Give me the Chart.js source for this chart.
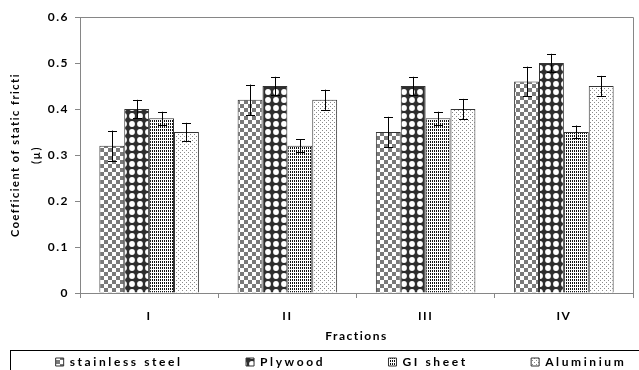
<!DOCTYPE html>
<html><head><meta charset="utf-8">
<script src="https://cdn.jsdelivr.net/npm/chart.js@4/dist/chart.umd.min.js"></script>
<style>html,body{margin:0;padding:0;background:#fff;overflow:hidden;width:639px;height:370px}canvas{display:block}</style>
</head><body>
<canvas id="c" width="682" height="370" style="width:682px;height:370px"></canvas>
<script>
const categories = ['I', 'II', 'III', 'IV'];
const seriesNames = ['stainless steel', 'Plywood', 'GI sheet', 'Aluminium'];
const stainlessSteel = [0.32, 0.42, 0.35, 0.46];
const plywood = [0.40, 0.45, 0.45, 0.50];
const giSheet = [0.38, 0.32, 0.38, 0.35];
const aluminium = [0.35, 0.42, 0.40, 0.45];
const stainlessSteelErr = [0.033, 0.033, 0.033, 0.032];
const plywoodErr = [0.02, 0.02, 0.02, 0.02];
const giSheetErr = [0.014, 0.014, 0.014, 0.014];
const aluminiumErr = [0.02, 0.022, 0.022, 0.022];
const yTickLabels = ['0', '0.1', '0.2', '0.3', '0.4', '0.5', '0.6'];
const yTitle = ['Coefficient of static fricti', '(\u00B5)'];
const xTitle = 'Fractions';

const FONT = "Lato, 'Liberation Sans', sans-serif";
const SPACING = '1.5px';
const LEGEND_SPACING = '2.6px';
const AXIS_GREY = '#868686';

function tile(w, h, draw) {
  const c = document.createElement('canvas');
  c.width = w; c.height = h;
  const g = c.getContext('2d');
  draw(g);
  return g.createPattern(c, 'repeat');
}
const patSteel = tile(8, 8, g => {
  g.fillStyle = '#fff'; g.fillRect(0, 0, 8, 8);
  g.fillStyle = '#7a7a7a'; g.fillRect(0, 0, 4, 4); g.fillRect(4, 4, 4, 4);
});
const patPly = tile(8, 8, g => {
  g.fillStyle = '#2e2e2e'; g.fillRect(0, 0, 8, 8);
  g.fillStyle = '#fff'; g.beginPath(); g.arc(4, 4, 2.9, 0, Math.PI * 2); g.fill();
});
const patGI = tile(2, 3, g => {
  g.fillStyle = '#fff'; g.fillRect(0, 0, 2, 3);
  g.fillStyle = '#111'; g.fillRect(0, 0, 1, 2);
});
const patAl = tile(4, 4, g => {
  g.fillStyle = '#fff'; g.fillRect(0, 0, 4, 4);
  g.fillStyle = '#8a8a8a'; g.fillRect(0, 0, 1, 1); g.fillRect(2, 2, 1, 1);
});

const values = [stainlessSteel, plywood, giSheet, aluminium];
const errors = [stainlessSteelErr, plywoodErr, giSheetErr, aluminiumErr];
const patterns = [patSteel, patPly, patGI, patAl];

const spacingPlugin = {
  id: 'spacing',
  afterInit(chart) {
    const lg = chart.legend;
    if (!lg) return;
    ['fit', 'draw'].forEach(fn => {
      const orig = lg[fn];
      lg[fn] = function (...a) {
        const ctx = this.ctx;
        const prev = ctx.letterSpacing;
        ctx.letterSpacing = LEGEND_SPACING;
        const r = orig.apply(this, a);
        ctx.letterSpacing = prev;
        return r;
      };
    });
  },
  beforeLayout(chart) { chart.ctx.letterSpacing = SPACING; },
  beforeDraw(chart) { chart.ctx.letterSpacing = SPACING; }
};

const errorBarPlugin = {
  id: 'errorBars',
  afterDatasetsDraw(chart) {
    const ctx = chart.ctx;
    const ys = chart.scales.y;
    ctx.save();
    ctx.strokeStyle = '#000';
    ctx.lineWidth = 1;
    chart.data.datasets.forEach((ds, i) => {
      const meta = chart.getDatasetMeta(i);
      meta.data.forEach((el, j) => {
        const v = ds.data[j], e = ds.errors[j];
        const x = Math.round(el.x) + 0.5;
        const y1 = ys.getPixelForValue(v + e), y2 = ys.getPixelForValue(v - e);
        ctx.beginPath();
        ctx.moveTo(x, y1); ctx.lineTo(x, y2);
        ctx.moveTo(x - 4.5, Math.round(y1) + 0.5); ctx.lineTo(x + 4.5, Math.round(y1) + 0.5);
        ctx.moveTo(x - 4.5, Math.round(y2) + 0.5); ctx.lineTo(x + 4.5, Math.round(y2) + 0.5);
        ctx.stroke();
      });
    });
    ctx.restore();
  }
};

const framePlugin = {
  id: 'frame',
  afterDraw(chart) {
    const {ctx, chartArea: a} = chart;
    ctx.save();
    ctx.strokeStyle = AXIS_GREY;
    ctx.lineWidth = 1;
    ctx.beginPath();
    ctx.moveTo(Math.round(a.left) + 0.5, Math.round(a.top) + 0.5);
    ctx.lineTo(Math.round(a.right) + 0.5, Math.round(a.top) + 0.5);
    ctx.lineTo(Math.round(a.right) + 0.5, Math.round(a.bottom) + 0.5);
    ctx.stroke();
    const lg = chart.legend;
    ctx.strokeStyle = '#000';
    ctx.strokeRect(10.5, Math.round(lg.top) + 0.5, 700, 60);
    ctx.restore();
  }
};

new Chart(document.getElementById('c'), {
  type: 'bar',
  data: {
    labels: categories,
    datasets: seriesNames.map((name, i) => ({
      label: name,
      data: values[i],
      errors: errors[i],
      backgroundColor: patterns[i],
      borderColor: '#333',
      borderWidth: 1,
      categoryPercentage: 0.72,
      barPercentage: 1.0
    }))
  },
  options: {
    responsive: false,
    animation: false,
    devicePixelRatio: 1,
    layout: { padding: { top: 17, left: 0, right: 0, bottom: 0 } },
    plugins: {
      tooltip: { enabled: false },
      legend: {
        position: 'bottom',
        maxHeight: 20,
        labels: {
          boxWidth: 8,
          boxHeight: 8,
          padding: 6,
          color: '#000',
          font: { family: FONT, size: 12, weight: 'bold' },
          generateLabels(chart) {
            const items = Chart.defaults.plugins.legend.labels.generateLabels(chart);
            const ctx = chart.ctx;
            ctx.save();
            ctx.font = 'bold 12px ' + FONT;
            ctx.letterSpacing = LEGEND_SPACING;
            const sw = ctx.measureText('\u2009').width || 3;
            ctx.restore();
            items.forEach((it, i) => {
              if (i < items.length - 1) it.text = it.text + '\u2009'.repeat(Math.round(58 / sw));
            });
            return items;
          }
        }
      }
    },
    scales: {
      x: {
        grid: { display: true, drawOnChartArea: false, offset: true, tickLength: 5, color: AXIS_GREY },
        border: { color: AXIS_GREY },
        ticks: { color: '#000', padding: 11, font: { family: FONT, size: 12, weight: 'bold' } },
        title: { display: true, text: xTitle, color: '#000', padding: { top: 0, bottom: 7 }, font: { family: FONT, size: 12, weight: 'bold' } },
        afterFit(s) { s.height = 57; }
      },
      y: {
        min: 0, max: 0.6,
        grid: { display: true, drawOnChartArea: false, tickLength: 5, color: AXIS_GREY },
        border: { color: AXIS_GREY },
        ticks: {
          stepSize: 0.1, color: '#000', padding: 6,
          font: { family: FONT, size: 12, weight: 'bold' },
          callback: (v, i) => yTickLabels[i]
        },
        title: { display: true, text: yTitle, color: '#000', padding: { top: 5, bottom: 0 }, font: { family: FONT, size: 11, weight: 'bold', lineHeight: 1.9 } },
        afterFit(s) { s.width = 80; }
      },
      y2: {
        position: 'right',
        display: true,
        grid: { display: false },
        border: { display: false },
        ticks: { display: false },
        afterFit(s) { s.width = 49; }
      }
    }
  },
  plugins: [spacingPlugin, errorBarPlugin, framePlugin]
});
</script>
</body></html>
